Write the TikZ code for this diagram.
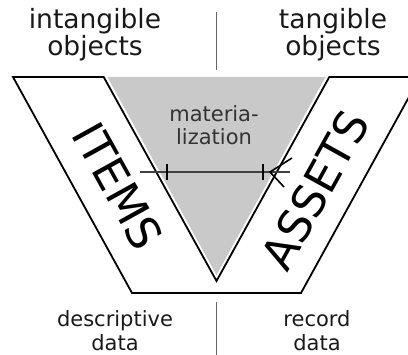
\documentclass[tikz,border=0pt]{standalone}
\usepackage{fontspec}
\setmainfont{DejaVu Sans}
\begin{document}
\begin{tikzpicture}[x=1pt,y=-1pt,
  outline/.style={draw=black, line width=1.8pt, line join=miter},
  grayfill/.style={fill=black!21},
  divider/.style={draw=black!60, line width=1.5pt},
  arrowline/.style={draw=black!75, line width=2.2pt},
  tickmark/.style={draw=black, line width=1.6pt},
  headline/.style={draw=black, line width=1.6pt, line join=miter},
  toplbl/.style={align=center, inner sep=0pt, text=black!90, font=\fontsize{26.5}{23}\selectfont},
  botlbl/.style={align=center, inner sep=0pt, text=black!90, font=\fontsize{21}{24}\selectfont},
  midlbl/.style={align=center, inner sep=0pt, text=black!80, font=\fontsize{21}{23}\selectfont},
  bandlbl/.style={inner sep=0pt, text=black, font=\fontsize{45}{45}\selectfont}]
\useasboundingbox (0,0) rectangle (408,355);
\clip (0,0) rectangle (408,355);
% gray triangle
\fill[grayfill] (107.4,77) -- (325.6,77) -- (216.5,275) -- cycle;
% V outline
\draw[outline] (13,77) -- (103.7,77) -- (216.5,281) -- (329.3,77) -- (420,77) -- (301,293) -- (132,293) -- cycle;
% dividers
\coordinate (dt1) at (216.5,12); \coordinate (dt2) at (216.5,70);
\coordinate (db1) at (216.5,302); \coordinate (db2) at (216.5,355);
\draw[divider] (dt1) -- (dt2);
\draw[divider] (db1) -- (db2);
% arrow
\coordinate (aL) at (140,172); \coordinate (aR) at (290,172);
\draw[arrowline] (aL) -- (aR);
\coordinate (t1a) at (167,164); \coordinate (t1b) at (167,180);
\coordinate (t2a) at (263,164); \coordinate (t2b) at (263,180);
\draw[tickmark] (t1a) -- (t1b);
\draw[tickmark] (t2a) -- (t2b);
\coordinate (hU) at (292,158); \coordinate (hT) at (270,172); \coordinate (hD) at (284,187);
\draw[headline] (hU) -- (hT) -- (hD);
% labels
\node[toplbl] (intang) at (95,35) {intangible\\objects};
\node[toplbl] (tang) at (333,35) {tangible\\objects};
\node[botlbl] (desc) at (115,331) {descriptive\\data};
\node[botlbl] (rec) at (317,331) {record\\data};
\node[midlbl] (mat) at (214,125.5) {materia-\\lization};
\node[bandlbl, rotate=-61] (items) at (118,186) {ITEMS};
\node[bandlbl, rotate=61] (assets) at (315,190) {ASSETS};
\end{tikzpicture}
\end{document}
